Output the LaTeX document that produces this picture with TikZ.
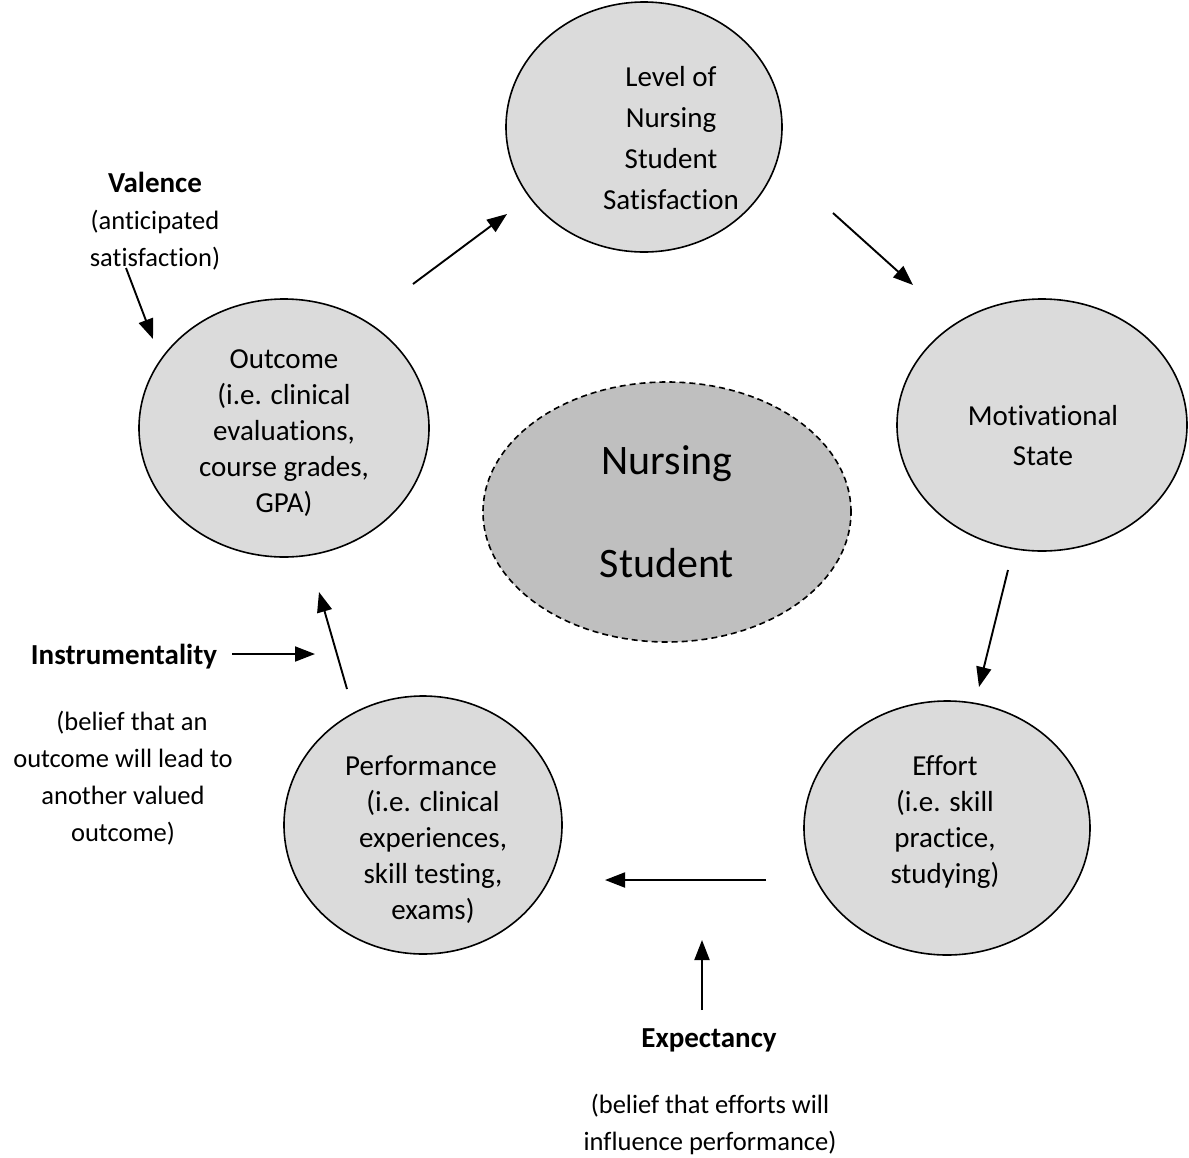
\documentclass[tikz,border=0pt]{standalone}
\usepackage{fontspec}
\setmainfont{Carlito}[Ligatures={NoCommon}]
\usetikzlibrary{arrows.meta,shapes.geometric}

\begin{document}
\begin{tikzpicture}[x=1pt,y=-1pt,
  bubble/.style={ellipse, draw=black, line width=1.6pt, fill=black!14, inner sep=0pt},
  core/.style={ellipse, draw=black, line width=1.6pt, dash pattern=on 6pt off 4pt, fill=black!25, inner sep=0pt},
  bubbletext/.style={align=center, inner sep=0pt, font=\fontsize{29}{36}\selectfont},
  note/.style={align=center, inner sep=0pt, font=\fontsize{26.5}{37}\selectfont},
  heading/.style={inner sep=0pt, font=\fontsize{29}{35}\selectfont\bfseries},
  arr/.style={-{Triangle[length=20pt,width=15pt]}, line width=1.9pt},
]
\useasboundingbox (0,0) rectangle (1189,1157);

% the five stages of the cycle and the student at its centre
\node[bubble, minimum width=276pt, minimum height=250pt] (satisfaction) at (644,127) {};
\node[bubble, minimum width=290pt, minimum height=252pt] (motivation) at (1042,425) {};
\node[bubble, minimum width=286pt, minimum height=254pt] (effort) at (947,828) {};
\node[bubble, minimum width=278pt, minimum height=258pt] (performance) at (423,825) {};
\node[bubble, minimum width=290pt, minimum height=258pt] (outcome) at (284,428) {};
\node[core, minimum width=368pt, minimum height=260pt] (student) at (667,512) {};

% stage texts
\node[bubbletext, font=\fontsize{29}{41}\selectfont] (satisfactiontext) at (671,138)
  {Level of\\Nursing\\Student\\Satisfaction};
\node[bubbletext, font=\fontsize{29}{40}\selectfont] (motivationtext) at (1043,436)
  {Motivational\\State};
\node[bubbletext] (efforttext) at (945,822)
  {Effort\\(i.e. skill\\practice,\\studying)};
\node[bubbletext] (performancetext) at (433,840)
  {Performance\kern24pt\\(i.e. clinical\\experiences,\\skill testing,\\exams)};
\node[bubbletext] (outcometext) at (284,433)
  {Outcome\\(i.e. clinical\\evaluations,\\course grades,\\GPA)};
\node[bubbletext, font=\fontsize{42}{103}\selectfont] (studenttext) at (667,512)
  {Nursing\\Student};

% the three expectancy-theory factors
\node[heading] (valence) at (155,182) {Valence};
\node[note] (valencenote) at (155,240) {(anticipated\\satisfaction)};
\node[heading] (instrumentality) at (124,657) {Instrumentality};
\node[note] (instrumentalitynote) at (123,778)
  {\kern18pt(belief that an\\outcome will lead to\\another valued\\outcome)};
\node[heading] (expectancy) at (709,1040) {Expectancy};
\node[note] (expectancynote) at (710,1124)
  {(belief that efforts will\\influence performance)};

% arrow end points
\coordinate (o2s) at (413,284);  \coordinate (s2o) at (507,214);
\coordinate (s2m) at (833,213);  \coordinate (m2s) at (913,285);
\coordinate (m2e) at (1008,570); \coordinate (e2m) at (979,687);
\coordinate (e2p) at (766,880);  \coordinate (p2e) at (605,880);
\coordinate (p2o) at (347,689);  \coordinate (o2p) at (319,592);
\coordinate (instrEnd) at (315,654);
\coordinate (expStart) at (702,1010); \coordinate (expEnd) at (702,940);
\coordinate (valStart) at (126,268);  \coordinate (valEnd) at (153,339);

% the cycle
\draw[arr] (o2s) -- (s2o);
\draw[arr] (s2m) -- (m2s);
\draw[arr] (m2e) -- (e2m);
\draw[arr] (e2p) -- (p2e);
\draw[arr] (p2o) -- (o2p);

% factor arrows
\draw[arr] (instrumentality.east) ++(15,-3) coordinate (instrStart) (instrStart) -- (instrEnd);
\draw[arr] (expStart) -- (expEnd);
\draw[arr] (valStart) -- (valEnd);
\end{tikzpicture}
\end{document}
